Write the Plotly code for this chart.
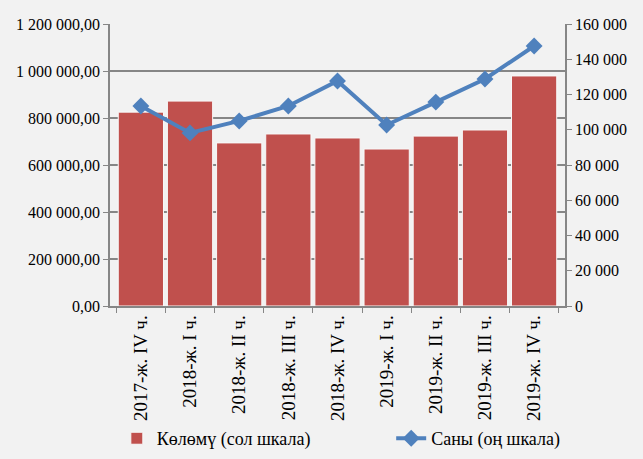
"""Көлөм жана саны - quarterly chart, dual axis."""

import plotly.graph_objects as go

# === Data ===
QUARTERS = [
    "2017-ж. IV ч.",
    "2018-ж. I ч.",
    "2018-ж. II ч.",
    "2018-ж. III ч.",
    "2018-ж. IV ч.",
    "2019-ж. I ч.",
    "2019-ж. II ч.",
    "2019-ж. III ч.",
    "2019-ж. IV ч.",
]
VOLUME = [825000, 872000, 694000, 732000, 715000, 668000, 723000, 749000, 979000]
COUNT = [113500, 98200, 105000, 113500, 127700, 102700, 115700, 128800, 147500]

LEFT_TICKS = [0, 200000, 400000, 600000, 800000, 1000000, 1200000]
RIGHT_TICKS = [0, 20000, 40000, 60000, 80000, 100000, 120000, 140000, 160000]

# === Style ===
BG = "#f2f2f2"
BAR_COLOR = "#c0504d"
LINE_COLOR = "#4f81bd"
AXIS_COLOR = "#868686"
FAMILY = "Liberation Serif, Times New Roman, serif"
FONT = dict(family=FAMILY, size=16, color="#000000")

fig = go.Figure()

fig.add_trace(go.Bar(
    x=QUARTERS,
    y=VOLUME,
    name="Көлөмү (сол шкала)",
    marker=dict(color=BAR_COLOR, line=dict(color="#f8f8f8", width=1)),
    yaxis="y",
    legend="legend",
    showlegend=True,
))

fig.add_trace(go.Scatter(
    x=QUARTERS,
    y=COUNT,
    name="Саны (оң шкала)",
    mode="lines+markers",
    line=dict(color=LINE_COLOR, width=4),
    marker=dict(symbol="diamond", size=13, color=LINE_COLOR),
    yaxis="y2",
    legend="legend2",
    showlegend=True,
))

legend_style = dict(
    orientation="h",
    xanchor="left",
    y=-0.47,
    yanchor="middle",
    bgcolor="rgba(0,0,0,0)",
    font=dict(family=FAMILY, size=18, color="#000000"),
)

fig.update_layout(
    width=643,
    height=459,
    showlegend=True,
    separators=", ",
    font=FONT,
    plot_bgcolor=BG,
    paper_bgcolor=BG,
    bargap=0.08,
    margin=dict(t=24, b=153, l=110, r=78, autoexpand=False),
    xaxis=dict(
        type="category",
        tickangle=-90,
        tickson="boundaries",
        ticks="outside",
        ticklen=5,
        tickcolor=AXIS_COLOR,
        tickfont=dict(family=FAMILY, size=19, color="#000000"),
        showline=True,
        linecolor=AXIS_COLOR,
        linewidth=1.5,
        showgrid=False,
        automargin=False,
    ),
    yaxis=dict(
        range=[0, 1200000],
        tickvals=LEFT_TICKS,
        tickformat=",.2f",
        ticks="outside",
        ticklen=5,
        tickcolor=AXIS_COLOR,
        showline=True,
        linecolor=AXIS_COLOR,
        linewidth=1.5,
        gridcolor=AXIS_COLOR,
        gridwidth=1.5,
        zeroline=False,
        automargin=False,
    ),
    yaxis2=dict(
        range=[0, 160000],
        tickvals=RIGHT_TICKS,
        tickformat=",d",
        overlaying="y",
        side="right",
        ticks="outside",
        ticklen=5,
        tickcolor=AXIS_COLOR,
        showline=True,
        linecolor=AXIS_COLOR,
        linewidth=1.5,
        showgrid=False,
        zeroline=False,
        automargin=False,
    ),
    legend=dict(x=0.015, **legend_style),
    legend2=dict(x=0.618, **legend_style),
)

fig.write_html(
    "out.html",
    config={"displayModeBar": False},
    post_script="document.body.style.margin='0';document.body.style.background='#f2f2f2';",
)
